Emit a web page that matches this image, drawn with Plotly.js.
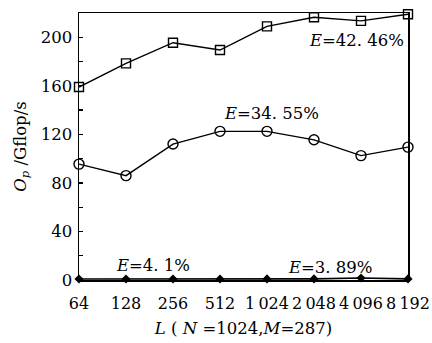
<!DOCTYPE html>
<html>
<head>
<meta charset="utf-8">
<script src="https://cdn.plot.ly/plotly-3.0.1.min.js"></script>
<style>html,body{margin:0;padding:0;background:#fff;}#chart{width:432px;height:343px;}</style>
</head>
<body>
<div id="chart"></div>
<script>
var categories = ["64", "128", "256", "512", "1\u2009024", "2\u2009048", "4\u2009096", "8\u2009192"];
var seriesSquare = [159, 178.5, 195.5, 189.5, 209, 216.5, 213.5, 219];
var seriesCircle = [95.5, 86, 112, 122.5, 122.5, 115.5, 102.5, 109.5];
var seriesDiamond = [0.8, 0.8, 0.8, 0.8, 0.9, 0.9, 1.6, 0.9];
var labelSquare = "<i>E</i>=42. 46%";
var labelCircle = "<i>E</i>=34. 55%";
var labelDiamondA = "<i>E</i>=4. 1%";
var labelDiamondB = "<i>E</i>=3. 89%";
var yTicks = [0, 40, 80, 120, 160, 200];

var font = "DejaVu Serif, Liberation Serif, serif";
var traces = [
  {x: categories, y: seriesSquare, type: "scatter", mode: "lines+markers",
   line: {color: "#000", width: 1.4},
   marker: {symbol: "square-open", size: 9, color: "#000", line: {width: 1.4}}, cliponaxis: false},
  {x: categories, y: seriesCircle, type: "scatter", mode: "lines+markers",
   line: {color: "#000", width: 1.4},
   marker: {symbol: "circle-open", size: 10, color: "#000", line: {width: 1.4}}, cliponaxis: false},
  {x: categories, y: seriesDiamond, type: "scatter", mode: "lines+markers",
   line: {color: "#000", width: 1.6},
   marker: {symbol: "diamond", size: 7, color: "#000"}, cliponaxis: false}
];
var layout = {
  width: 432, height: 343,
  margin: {l: 79, r: 24, t: 13, b: 63},
  paper_bgcolor: "#fff", plot_bgcolor: "#fff",
  showlegend: false,
  font: {family: font, size: 16, color: "#000"},
  xaxis: {
    type: "category", range: [0, 7], showgrid: false, zeroline: false,
    showline: true, linecolor: "#000", linewidth: 1.5, mirror: true,
    ticks: "", tickangle: 0, ticklabelstandoff: 8, tickfont: {family: font, size: 16, color: "#000"},
    title: {text: "<i>L</i> ( <i>N</i> =1024,<i>M</i>=287)", font: {family: font, size: 16.5, color: "#000"}, standoff: 10}
  },
  yaxis: {
    range: [0, 220], showgrid: false, zeroline: false,
    showline: true, linecolor: "#000", linewidth: 1.5, mirror: true,
    tickmode: "array", tickvals: yTicks, ticktext: yTicks.map(String),
    ticks: "inside", ticklen: 4, tickcolor: "#000", tickwidth: 1.2,
    minor: {dtick: 20, tick0: 0, ticks: "inside", ticklen: 4, tickcolor: "#000", tickwidth: 1.2},
    ticklabelstandoff: 2,
    tickfont: {family: font, size: 16.5, color: "#000"},
    title: {text: "<i>O</i><sub><i>p</i></sub> /Gflop/s", font: {family: font, size: 16.5, color: "#000"}, standoff: 10}
  },
  annotations: [
    {x: 5.9, y: 197, xref: "x", yref: "y", text: labelSquare, showarrow: false, xanchor: "center", yanchor: "middle", font: {family: font, size: 16.5, color: "#000"}},
    {x: 4.1, y: 137, xref: "x", yref: "y", text: labelCircle, showarrow: false, xanchor: "center", yanchor: "middle", font: {family: font, size: 16.5, color: "#000"}},
    {x: 1.57, y: 12, xref: "x", yref: "y", text: labelDiamondA, showarrow: false, xanchor: "center", yanchor: "middle", font: {family: font, size: 16.5, color: "#000"}},
    {x: 5.36, y: 10.7, xref: "x", yref: "y", text: labelDiamondB, showarrow: false, xanchor: "center", yanchor: "middle", font: {family: font, size: 16.5, color: "#000"}}
  ]
};
Plotly.newPlot("chart", traces, layout, {displayModeBar: false, staticPlot: true});
</script>
</body>
</html>
